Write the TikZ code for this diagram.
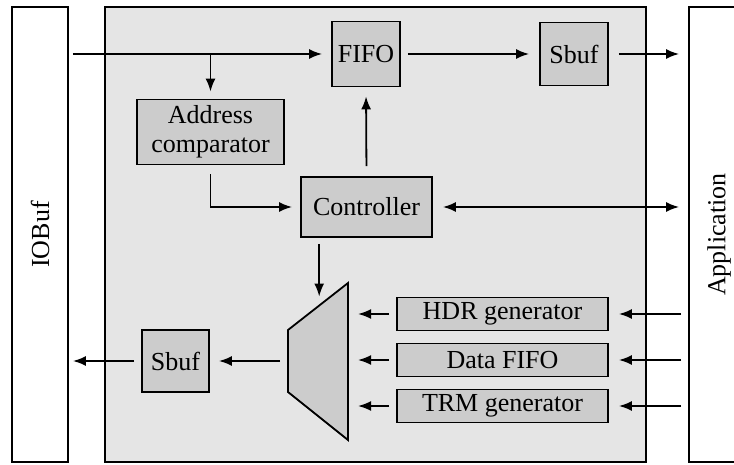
\documentclass[tikz,border=0pt]{standalone}
\usepackage{fontspec}
\setmainfont{Liberation Serif}
\usetikzlibrary{arrows.meta,calc}
\begin{document}
\begin{tikzpicture}[x=1pt,y=-1pt,
  every node/.style={font=\fontsize{26}{29}\selectfont},
  frame/.style={draw=black,line width=1.8pt,inner sep=0pt},
  block/.style={frame,fill=blockgray,align=center},
  arr/.style={line width=1.8pt,-{Latex[length=13pt,width=10pt]}},
  darr/.style={line width=1.8pt,{Latex[length=13pt,width=10pt]}-{Latex[length=13pt,width=10pt]}}]
\definecolor{blockgray}{HTML}{CCCCCC}
\definecolor{panelgray}{HTML}{E5E5E5}
\useasboundingbox (0,0) rectangle (734,465);
\begin{scope}
\clip (0,0) rectangle (734,465);
% outer columns and the central panel
\node[frame,minimum width=56pt,minimum height=455pt] (iobuf) at (40,234.5) {};
\node[rotate=90] at (iobuf.center) {IOBuf};
\node[frame,fill=panelgray,minimum width=541pt,minimum height=455pt] (core) at (375.5,234.5) {};
\node[frame,minimum width=60pt,minimum height=455pt] (app) at (719,234.5) {};
\node[rotate=90] at (app.center) {Application};
\end{scope}

% blocks
\node[block,minimum width=68pt,minimum height=65pt] (fifo) at (366,54) {FIFO};
\node[block,minimum width=68pt,minimum height=63pt] (sbufa) at (574,54) {Sbuf};
\node[block,minimum width=147pt,minimum height=65pt] (addr) at (210.5,132) {Address\\comparator};
\node[block,minimum width=131pt,minimum height=60pt] (ctrl) at (366.5,207) {Controller};
\node[block,minimum width=211pt,minimum height=33pt] (hdr) at (502.5,314) {HDR generator};
\node[block,minimum width=211pt,minimum height=33pt] (dfifo) at (502.5,360) {Data FIFO};
\node[block,minimum width=211pt,minimum height=33pt] (trm) at (502.5,406) {TRM generator};
\node[block,minimum width=67pt,minimum height=62pt] (sbufb) at (175.5,361) {Sbuf};

% multiplexer
\coordinate (muxtl) at (288,330);
\coordinate (muxtr) at (348,283);
\coordinate (muxbr) at (348,440);
\coordinate (muxbl) at (288,392);
\draw[line width=1.8pt,fill=blockgray,line join=miter] (muxtl) -- (muxtr) -- (muxbr) -- (muxbl) -- cycle;
\coordinate (muxin) at ($(muxtl)!0.52!(muxtr)$);
\coordinate (muxout) at ($(muxtl)!0.5!(muxbl)$);

% receive path
\draw[arr,shorten <=4pt,shorten >=9pt] (iobuf.east |- fifo.west) -- (fifo.west);
\draw[arr,shorten >=7pt] (addr.north |- fifo.west) -- (addr.north);
\draw[arr,shorten <=9pt,shorten >=8pt] (addr.south) |- (ctrl.west);
\draw[arr,shorten <=10pt,shorten >=9pt] (ctrl.north) -- (fifo.south);
\draw[arr,shorten <=7pt,shorten >=10pt] (fifo.east) -- (sbufa.west);
\draw[arr,shorten <=10pt,shorten >=9pt] (sbufa.east) -- (app.west |- sbufa.east);
\draw[darr,shorten <=10pt,shorten >=9pt] (ctrl.east) -- (app.west |- ctrl.east);

% transmit path
\draw[arr,shorten <=6pt,shorten >=9pt] (ctrl.south -| muxin) -- (muxin);
\foreach \b in {hdr,dfifo,trm}{
  \draw[arr,shorten <=7pt,shorten >=10pt] (\b.east -| app.west) -- (\b.east);
  \draw[arr,shorten <=7pt,shorten >=10pt] (\b.west) -- (\b.west -| muxtr);
}
\draw[arr,shorten <=8pt,shorten >=9pt] (muxout) -- (sbufb.east |- muxout);
\draw[arr,shorten <=7pt,shorten >=4pt] (sbufb.west |- muxout) -- (iobuf.east |- muxout);
\end{tikzpicture}
\end{document}
